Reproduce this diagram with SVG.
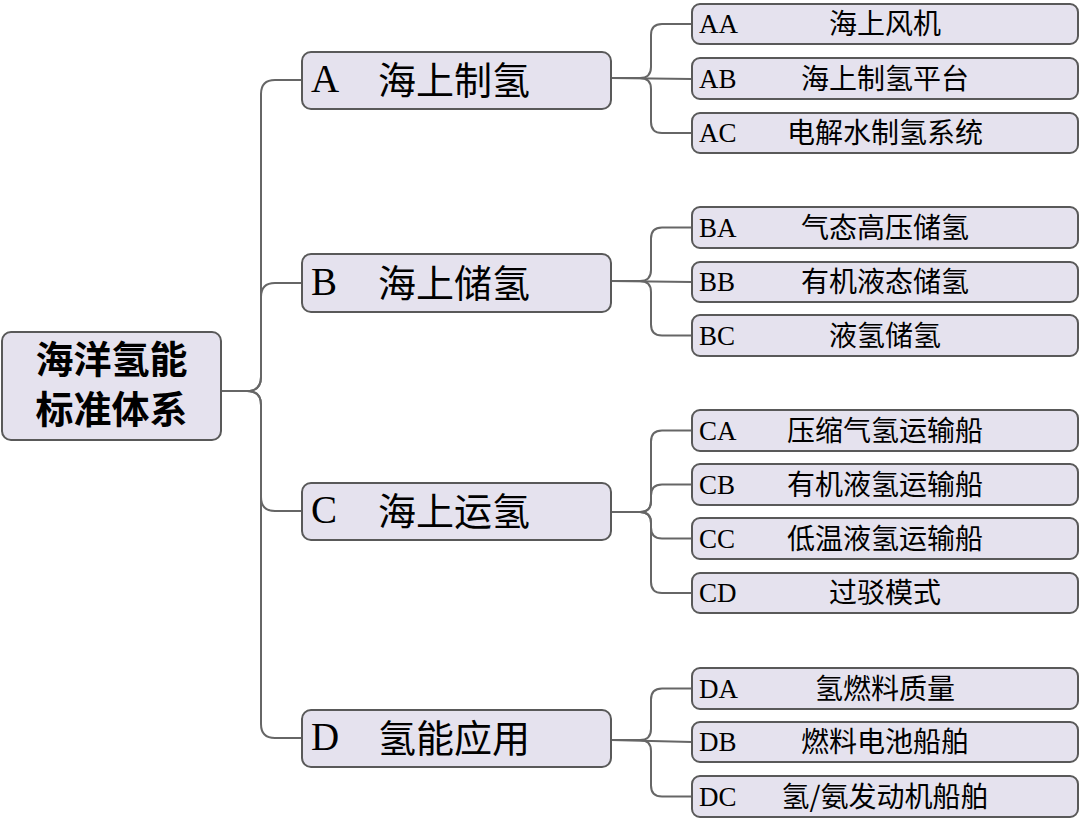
<svg xmlns="http://www.w3.org/2000/svg" width="1080" height="827" viewBox="0 0 1080 827">
<style>
.box{fill:#e5e2ee;stroke:#595959;stroke-width:2}
.con{fill:none;stroke:#666;stroke-width:2}
.code{font-family:"Liberation Serif","Times New Roman",serif;fill:#000}
.cjk{font-family:"Noto Sans CJK SC","Noto Sans",sans-serif;fill:#000}
.lc{font-size:27px}
.lt{font-size:28px;text-anchor:middle}
.mc{font-size:39px}
.mt{font-size:38px}
.rt{font-size:38px;font-weight:bold;text-anchor:middle}
</style>
<rect width="1080" height="827" fill="#fff"/>
<g id="connectors">
<path class="con" d="M221,391 H247 Q261,391 261,377 V94 Q261,80 275,80 H302"/>
<path class="con" d="M221,391 H247 Q261,391 261,377 V297 Q261,283 275,283 H302"/>
<path class="con" d="M221,391 H247 Q261,391 261,405 V497 Q261,511 275,511 H302"/>
<path class="con" d="M221,391 H247 Q261,391 261,405 V724 Q261,738 275,738 H302"/>
<path class="con" d="M611,78 H640 Q651,78 651,67 V35 Q651,24 662,24 H692"/>
<path class="con" d="M611,78 L692,79"/>
<path class="con" d="M611,78 H640 Q651,78 651,89 V122 Q651,133 662,133 H692"/>
<path class="con" d="M611,281 H640 Q651,281 651,270 V238.5 Q651,227.5 662,227.5 H692"/>
<path class="con" d="M611,281 L692,282"/>
<path class="con" d="M611,281 H640 Q651,281 651,292 V324.5 Q651,335.5 662,335.5 H692"/>
<path class="con" d="M611,512 H640 Q651,512 651,501 V441.5 Q651,430.5 662,430.5 H692"/>
<path class="con" d="M611,512 H640 Q651,512 651,501 V495.5 Q651,484.5 662,484.5 H692"/>
<path class="con" d="M611,512 H640 Q651,512 651,523 V527.5 Q651,538.5 662,538.5 H692"/>
<path class="con" d="M611,512 H640 Q651,512 651,523 V582 Q651,593 662,593 H692"/>
<path class="con" d="M611,740 H640 Q651,740 651,729 V699.5 Q651,688.5 662,688.5 H692"/>
<path class="con" d="M611,740 L692,742"/>
<path class="con" d="M611,740 H640 Q651,740 651,751 V785.5 Q651,796.5 662,796.5 H692"/>
</g>
<g id="root">
<rect class="box" x="2" y="332" width="219" height="108" rx="9"/>
<text class="cjk rt" x="111.5" y="373">海洋氢能</text>
<text class="cjk rt" x="111.5" y="423">标准体系</text>
</g>
<g id="A">
<rect class="box" x="302" y="52" width="309" height="57" rx="9"/>
<text class="code mc" x="311" y="92">A</text>
<text class="cjk mt" x="378" y="94">海上制氢</text>
</g>
<g id="B">
<rect class="box" x="302" y="254" width="309" height="58" rx="9"/>
<text class="code mc" x="311" y="295">B</text>
<text class="cjk mt" x="378" y="297">海上储氢</text>
</g>
<g id="C">
<rect class="box" x="302" y="483" width="309" height="57" rx="9"/>
<text class="code mc" x="311" y="523">C</text>
<text class="cjk mt" x="378" y="525">海上运氢</text>
</g>
<g id="D">
<rect class="box" x="302" y="710" width="309" height="57" rx="9"/>
<text class="code mc" x="311" y="750">D</text>
<text class="cjk mt" x="378" y="752">氢能应用</text>
</g>
<g id="AA">
<rect class="box" x="692" y="4" width="386" height="40" rx="8"/>
<text class="code lc" x="699" y="33">AA</text>
<text class="cjk lt" x="885" y="34">海上风机</text>
</g>
<g id="AB">
<rect class="box" x="692" y="58" width="386" height="41" rx="8"/>
<text class="code lc" x="699" y="88">AB</text>
<text class="cjk lt" x="885" y="89">海上制氢平台</text>
</g>
<g id="AC">
<rect class="box" x="692" y="113" width="386" height="40" rx="8"/>
<text class="code lc" x="699" y="142">AC</text>
<text class="cjk lt" x="885" y="143">电解水制氢系统</text>
</g>
<g id="BA">
<rect class="box" x="692" y="207" width="386" height="41" rx="8"/>
<text class="code lc" x="699" y="237">BA</text>
<text class="cjk lt" x="885" y="238">气态高压储氢</text>
</g>
<g id="BB">
<rect class="box" x="692" y="262" width="386" height="40" rx="8"/>
<text class="code lc" x="699" y="291">BB</text>
<text class="cjk lt" x="885" y="292">有机液态储氢</text>
</g>
<g id="BC">
<rect class="box" x="692" y="315" width="386" height="41" rx="8"/>
<text class="code lc" x="699" y="345">BC</text>
<text class="cjk lt" x="885" y="346">液氢储氢</text>
</g>
<g id="CA">
<rect class="box" x="692" y="410" width="386" height="41" rx="8"/>
<text class="code lc" x="699" y="440">CA</text>
<text class="cjk lt" x="885" y="441">压缩气氢运输船</text>
</g>
<g id="CB">
<rect class="box" x="692" y="464" width="386" height="41" rx="8"/>
<text class="code lc" x="699" y="494">CB</text>
<text class="cjk lt" x="885" y="495">有机液氢运输船</text>
</g>
<g id="CC">
<rect class="box" x="692" y="518" width="386" height="41" rx="8"/>
<text class="code lc" x="699" y="548">CC</text>
<text class="cjk lt" x="885" y="549">低温液氢运输船</text>
</g>
<g id="CD">
<rect class="box" x="692" y="573" width="386" height="40" rx="8"/>
<text class="code lc" x="699" y="602">CD</text>
<text class="cjk lt" x="885" y="603">过驳模式</text>
</g>
<g id="DA">
<rect class="box" x="692" y="668" width="386" height="41" rx="8"/>
<text class="code lc" x="699" y="698">DA</text>
<text class="cjk lt" x="885" y="699">氢燃料质量</text>
</g>
<g id="DB">
<rect class="box" x="692" y="722" width="386" height="40" rx="8"/>
<text class="code lc" x="699" y="751">DB</text>
<text class="cjk lt" x="885" y="752">燃料电池船舶</text>
</g>
<g id="DC">
<rect class="box" x="692" y="776" width="386" height="41" rx="8"/>
<text class="code lc" x="699" y="806">DC</text>
<text class="cjk lt" x="885" y="807">氢/氨发动机船舶</text>
</g>
</svg>
